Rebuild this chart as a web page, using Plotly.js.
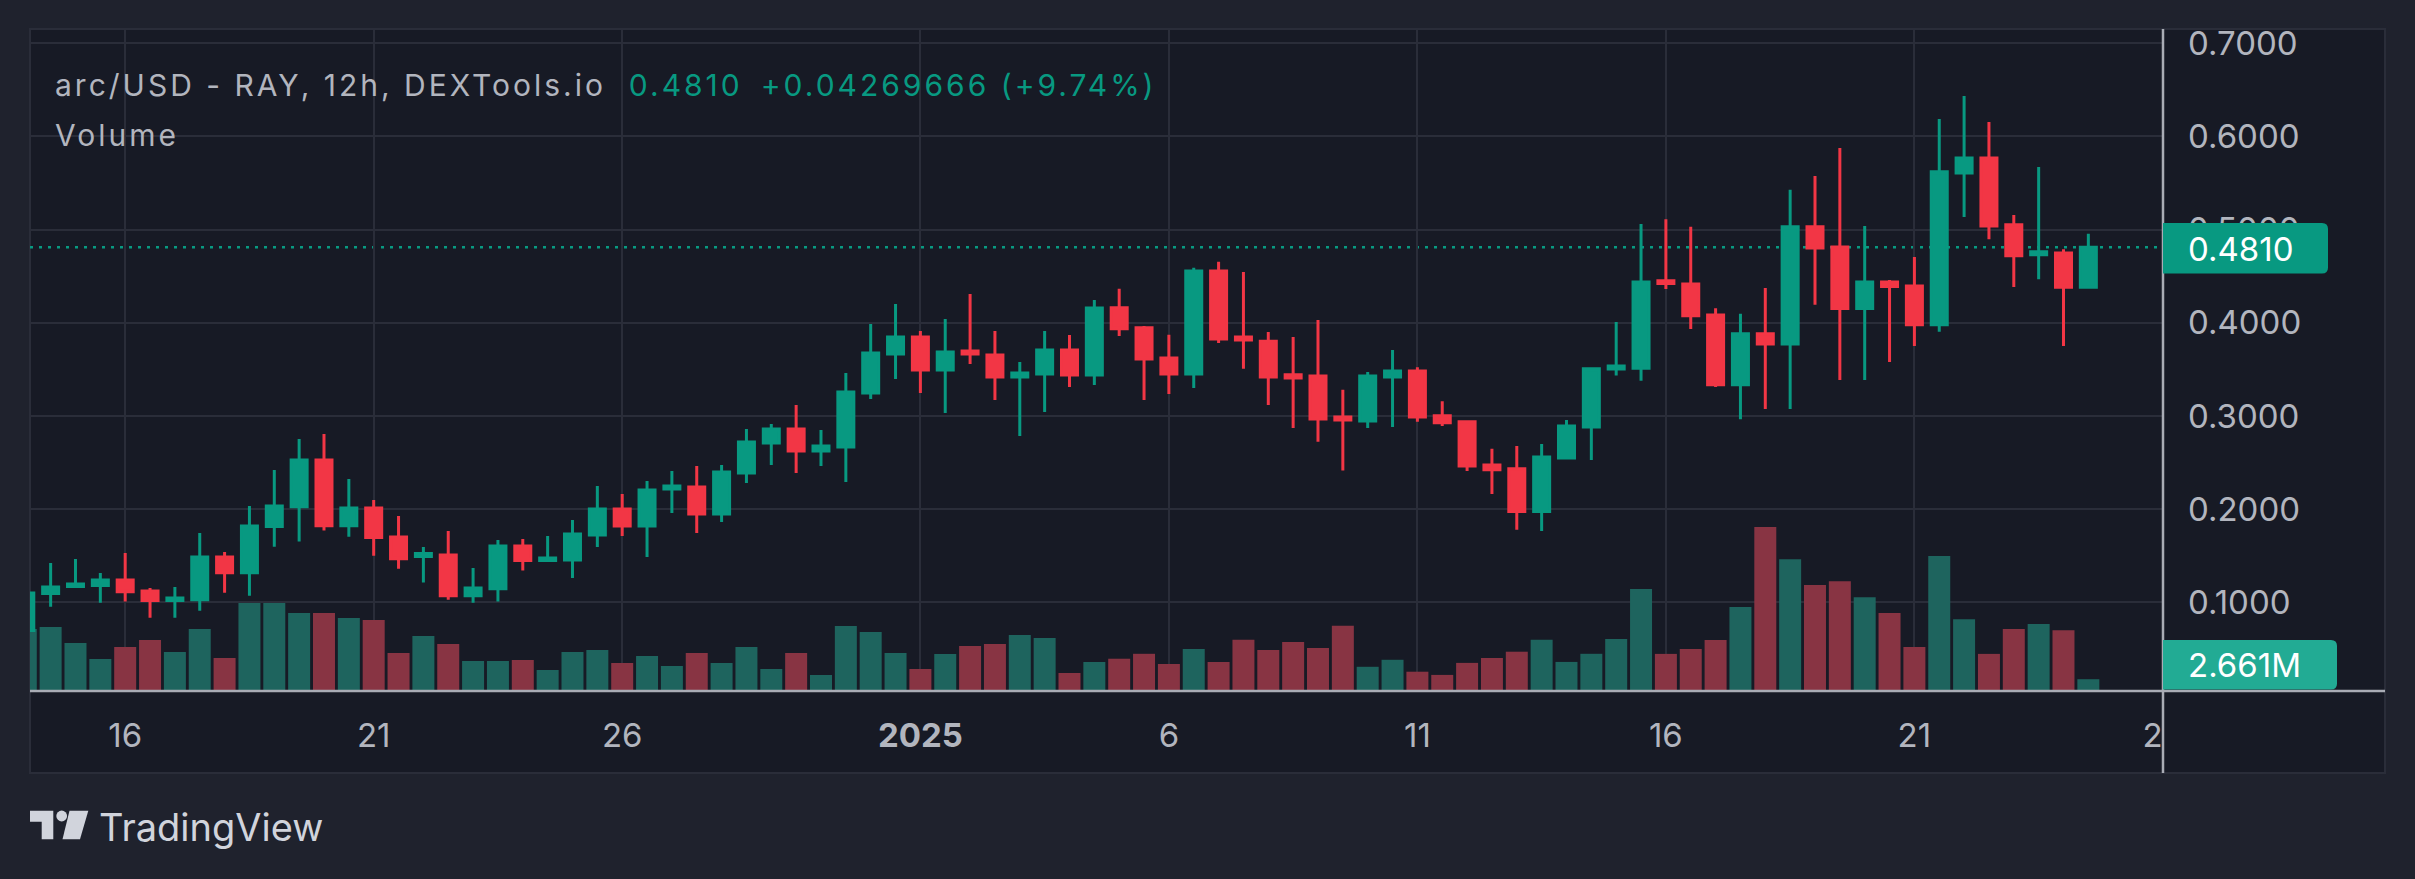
<!DOCTYPE html>
<html><head><meta charset="utf-8">
<script src="https://cdn.plot.ly/plotly-3.0.1.min.js"></script>
<style>html,body{margin:0;padding:0;background:#1f222d;}#chart{width:2415px;height:879px;}</style>
</head><body><div id="chart"></div>
<script>
// ---- data (12h candles, arc/USD) ----
const times = [
"2024-12-14 00:00","2024-12-14 12:00","2024-12-15 00:00","2024-12-15 12:00","2024-12-16 00:00","2024-12-16 12:00",
"2024-12-17 00:00","2024-12-17 12:00","2024-12-18 00:00","2024-12-18 12:00","2024-12-19 00:00","2024-12-19 12:00",
"2024-12-20 00:00","2024-12-20 12:00","2024-12-21 00:00","2024-12-21 12:00","2024-12-22 00:00","2024-12-22 12:00",
"2024-12-23 00:00","2024-12-23 12:00","2024-12-24 00:00","2024-12-24 12:00","2024-12-25 00:00","2024-12-25 12:00",
"2024-12-26 00:00","2024-12-26 12:00","2024-12-27 00:00","2024-12-27 12:00","2024-12-28 00:00","2024-12-28 12:00",
"2024-12-29 00:00","2024-12-29 12:00","2024-12-30 00:00","2024-12-30 12:00","2024-12-31 00:00","2024-12-31 12:00",
"2025-01-01 00:00","2025-01-01 12:00","2025-01-02 00:00","2025-01-02 12:00","2025-01-03 00:00","2025-01-03 12:00",
"2025-01-04 00:00","2025-01-04 12:00","2025-01-05 00:00","2025-01-05 12:00","2025-01-06 00:00","2025-01-06 12:00",
"2025-01-07 00:00","2025-01-07 12:00","2025-01-08 00:00","2025-01-08 12:00","2025-01-09 00:00","2025-01-09 12:00",
"2025-01-10 00:00","2025-01-10 12:00","2025-01-11 00:00","2025-01-11 12:00","2025-01-12 00:00","2025-01-12 12:00",
"2025-01-13 00:00","2025-01-13 12:00","2025-01-14 00:00","2025-01-14 12:00","2025-01-15 00:00","2025-01-15 12:00",
"2025-01-16 00:00","2025-01-16 12:00","2025-01-17 00:00","2025-01-17 12:00","2025-01-18 00:00","2025-01-18 12:00",
"2025-01-19 00:00","2025-01-19 12:00","2025-01-20 00:00","2025-01-20 12:00","2025-01-21 00:00","2025-01-21 12:00",
"2025-01-22 00:00","2025-01-22 12:00","2025-01-23 00:00","2025-01-23 12:00","2025-01-24 00:00","2025-01-24 12:00"];

const open = [
0.0698,0.1095,0.1170,0.1181,0.1241,0.1123,0.1020,0.1030,0.1488,0.1320,0.1814,0.2028,
0.2529,0.1824,0.2014,0.1703,0.1492,0.1510,0.1073,0.1148,0.1606,0.1449,0.1456,0.1724,
0.2003,0.1821,0.2218,0.2239,0.1950,0.2390,0.2711,0.2862,0.2626,0.2668,0.3248,0.3666,
0.3849,0.3495,0.3699,0.3656,0.3420,0.3452,0.3709,0.3441,0.4162,0.3947,0.3623,0.3450,
0.4557,0.3849,0.3804,0.3443,0.3431,0.2991,0.2946,0.3420,0.3484,0.3002,0.2938,0.2475,
0.2434,0.1975,0.2551,0.2882,0.3506,0.3514,0.4451,0.4417,0.4084,0.3335,0.3882,0.3773,
0.5030,0.4815,0.4154,0.4438,0.4395,0.3979,0.5608,0.5770,0.5052,0.4732,0.4750,0.4383];
const high = [
0.1125,0.1424,0.1467,0.1317,0.1531,0.1156,0.1166,0.1746,0.1542,0.2035,0.2422,0.2754,
0.2808,0.2325,0.2100,0.1928,0.1595,0.1767,0.1370,0.1671,0.1681,0.1713,0.1885,0.2250,
0.2164,0.2304,0.2411,0.2465,0.2475,0.2862,0.2915,0.3119,0.2851,0.3462,0.3988,0.4203,
0.3913,0.4042,0.4310,0.3913,0.3581,0.3913,0.3870,0.4246,0.4365,0.3966,0.3872,0.4591,
0.4655,0.4545,0.3902,0.3849,0.4030,0.3281,0.3473,0.3710,0.3525,0.3160,0.2950,0.2648,
0.2679,0.2701,0.2957,0.3525,0.4009,0.5060,0.5113,0.5030,0.4158,0.4097,0.4373,0.5428,
0.5577,0.5875,0.5038,0.4460,0.4706,0.6186,0.6435,0.6155,0.5157,0.5673,0.4789,0.4955];
const low = [
0.0690,0.0955,0.1156,0.0998,0.1009,0.0837,0.0837,0.0912,0.1105,0.1073,0.1599,0.1653,
0.1771,0.1706,0.1502,0.1363,0.1213,0.1030,0.0998,0.1009,0.1342,0.1449,0.1263,0.1595,
0.1714,0.1488,0.1960,0.1746,0.1864,0.2282,0.2475,0.2390,0.2465,0.2293,0.3183,0.3398,
0.3248,0.3033,0.3559,0.3173,0.2787,0.3044,0.3312,0.3334,0.3860,0.3172,0.3236,0.3300,
0.3785,0.3507,0.3119,0.2871,0.2724,0.2415,0.2871,0.2882,0.2938,0.2893,0.2411,0.2163,
0.1779,0.1768,0.2540,0.2528,0.3435,0.3379,0.4364,0.3935,0.3313,0.2967,0.3076,0.3076,
0.4193,0.3387,0.3387,0.3580,0.3751,0.3904,0.5135,0.4898,0.4386,0.4469,0.3751,0.4380];
const close = [
0.1102,0.1166,0.1198,0.1241,0.1116,0.1020,0.1048,0.1488,0.1320,0.1821,0.2035,0.2529,
0.1824,0.2014,0.1696,0.1470,0.1524,0.1073,0.1156,0.1606,0.1449,0.1477,0.1735,0.2003,
0.1821,0.2207,0.2250,0.1950,0.2400,0.2722,0.2862,0.2626,0.2679,0.3259,0.3677,0.3849,
0.3495,0.3688,0.3666,0.3420,0.3462,0.3709,0.3441,0.4160,0.3936,0.3612,0.3450,0.4557,
0.3827,0.3815,0.3420,0.3409,0.2968,0.2957,0.3431,0.3484,0.2991,0.2927,0.2464,0.2423,
0.1975,0.2562,0.2893,0.3507,0.3536,0.4438,0.4421,0.4075,0.3335,0.3882,0.3773,0.5030,
0.4802,0.4154,0.4438,0.4390,0.3979,0.5621,0.5770,0.5038,0.4719,0.4763,0.43830334,0.4810];
// volume in millions
const volumeM = [
13.98,14.43,10.82,7.22,9.92,11.50,8.79,13.98,7.44,19.84,19.84,17.59,
17.59,16.46,16.01,8.57,12.40,10.60,6.77,6.77,6.99,4.74,8.79,9.25,
6.31,7.89,5.64,8.57,6.31,9.92,4.96,8.57,3.61,14.66,13.30,8.57,
4.96,8.34,10.15,10.60,12.63,11.95,4.06,6.54,7.28,8.39,6.09,9.47,
6.54,11.55,9.25,11.07,9.72,14.70,5.46,7.04,4.35,3.63,6.34,7.44,
8.86,11.55,6.56,8.39,11.73,23.00,8.37,9.47,11.50,18.96,37.00,29.72,
23.93,24.76,21.17,17.59,9.94,30.47,16.19,8.37,13.98,15.09,13.71,2.661];

const dateTickVals = ["2024-12-16","2024-12-21","2024-12-26","2025-01-01","2025-01-06","2025-01-11","2025-01-16","2025-01-21","2025-01-26"];
const dateTickText = ["16","21","26","<b>2025</b>","6","11","16","21","26"];
const priceTickVals = [0.1,0.2,0.3,0.4,0.5,0.6,0.7];
const priceTickText = ["0.1000","0.2000","0.3000","0.4000","0.5000","0.6000","0.7000"];
const symbolTitle = "arc/USD - RAY, 12h, DEXTools.io";
const lastPrice = 0.4810;
const priceChange = "+0.04269666";
const priceChangePct = "+9.74%";
const volumeTitle = "Volume";
const lastVolumeLabel = "2.661M";

// ---- style ----
const UP = "#089981", DOWN = "#f23645";
const VOL_UP = "#1e645e", VOL_DOWN = "#883443";
const PANEL = "#171a25", OUTER = "#1f222d", GRID = "#2a2d39", TEXT = "#b2b5be", AXISLINE = "#a9acb5";
const FONT = "Inter, 'Noto Sans', sans-serif";

// pixel -> paper helpers (plot area: x 30..2163, y 29..691)
const PL = 30, PR = 2163, PT = 29, PB = 691;
const X = p => (p - PL) / (PR - PL);
const Y = p => (PB - p) / (PB - PT);

function roundRightRect(x0, y0, x1, y1, r) {
  return "M" + X(x0) + "," + Y(y0) +
    " L" + X(x1 - r) + "," + Y(y0) +
    " Q" + X(x1) + "," + Y(y0) + " " + X(x1) + "," + Y(y0 + r) +
    " L" + X(x1) + "," + Y(y1 - r) +
    " Q" + X(x1) + "," + Y(y1) + " " + X(x1 - r) + "," + Y(y1) +
    " L" + X(x0) + "," + Y(y1) + " Z";
}
function poly(points) {
  return points.map((p, i) => (i ? "L" : "M") + X(p[0]) + "," + Y(p[1])).join(" ") + " Z";
}

const volColors = close.map((c, i) => c >= open[i] ? VOL_UP : VOL_DOWN);
const barWidthMs = 0.885 * 12 * 3600 * 1000;

const traces = [
  {type: "bar", x: times, y: volumeM, yaxis: "y", marker: {color: volColors, line: {width: 0}},
   width: barWidthMs, hoverinfo: "skip", showlegend: false},
  {type: "candlestick", x: times, open: open, high: high, low: low, close: close, yaxis: "y2",
   increasing: {line: {color: UP, width: 3}, fillcolor: UP},
   decreasing: {line: {color: DOWN, width: 3}, fillcolor: DOWN},
   whiskerwidth: 0, hoverinfo: "skip", showlegend: false}
];

const shapes = [
  {type: "rect", xref: "paper", yref: "paper", x0: X(30), x1: X(2385), y0: Y(773), y1: Y(29),
   fillcolor: PANEL, line: {color: GRID, width: 2}, layer: "below"},
  {type: "line", xref: "paper", yref: "y2", x0: X(30), x1: X(2160), y0: lastPrice, y1: lastPrice,
   line: {color: UP, width: 2.5, dash: "3px,6px"}, layer: "below"},
  {type: "rect", xref: "paper", yref: "paper", x0: X(2164), x1: X(2384), y0: Y(771), y1: Y(692.5),
   fillcolor: PANEL, line: {width: 0}, layer: "above"},
  {type: "line", xref: "paper", yref: "paper", x0: X(30), x1: X(2385), y0: Y(691), y1: Y(691),
   line: {color: AXISLINE, width: 2.5}, layer: "above"},
  {type: "line", xref: "paper", yref: "paper", x0: X(2163), x1: X(2163), y0: Y(29), y1: Y(773),
   line: {color: AXISLINE, width: 2.5}, layer: "above"},
  {type: "path", xref: "paper", yref: "paper", path: roundRightRect(2163, 223, 2328, 273.5, 6),
   fillcolor: UP, line: {width: 0}, layer: "above"},
  {type: "path", xref: "paper", yref: "paper", path: roundRightRect(2163, 640, 2337, 689.5, 6),
   fillcolor: "#22ab94", line: {width: 0}, layer: "above"},
  {type: "path", xref: "paper", yref: "paper",
   path: poly([[30,810.7],[53.3,810.7],[53.3,839.3],[41.7,839.3],[41.7,821.7],[30,821.7]]),
   fillcolor: "#d1d4dc", line: {width: 0}},
  {type: "circle", xref: "paper", yref: "paper", x0: X(56.3), x1: X(67.1), y0: Y(821.4), y1: Y(810.6),
   fillcolor: "#d1d4dc", line: {width: 0}},
  {type: "path", xref: "paper", yref: "paper",
   path: poly([[69.5,810.7],[88.3,810.7],[80,839.3],[62.5,839.3]]),
   fillcolor: "#d1d4dc", line: {width: 0}}
];

const nb = "\u00a0";
const LS = "letter-spacing:3px";
const annotations = [
  {xref: "paper", yref: "paper", x: X(53), y: Y(85), xanchor: "left", yanchor: "middle", showarrow: false,
   text: '<span style="' + LS + '">' + symbolTitle + nb + nb + '</span><span style="color:' + UP + ';' + LS + '">' +
         lastPrice.toFixed(4) + "\u2002" + priceChange + " (" + priceChangePct + ")</span>",
   font: {family: FONT, size: 30, color: TEXT}},
  {xref: "paper", yref: "paper", x: X(53), y: Y(135), xanchor: "left", yanchor: "middle", showarrow: false,
   text: '<span style="' + LS + '">' + volumeTitle + '</span>', font: {family: FONT, size: 30, color: TEXT}},
  {xref: "paper", yref: "paper", x: X(2186), y: Y(248.5), xanchor: "left", yanchor: "middle", showarrow: false,
   text: lastPrice.toFixed(4), font: {family: FONT, size: 33, color: "#ffffff"}},
  {xref: "paper", yref: "paper", x: X(2186), y: Y(665), xanchor: "left", yanchor: "middle", showarrow: false,
   text: lastVolumeLabel, font: {family: FONT, size: 33, color: "#ffffff"}},
  {xref: "paper", yref: "paper", x: X(97), y: Y(827), xanchor: "left", yanchor: "middle", showarrow: false,
   text: "TradingView", font: {family: FONT, size: 38, color: "#d1d4dc"}}
];

const layout = {
  width: 2415, height: 879, autosize: false,
  margin: {l: PL, r: 2415 - PR, t: PT, b: 879 - PB, pad: 0},
  paper_bgcolor: OUTER, plot_bgcolor: PANEL,
  showlegend: false, hovermode: false, dragmode: false,
  boxgap: 0.356, boxgroupgap: 0,
  xaxis: {type: "date", range: ["2024-12-14 02:02", "2025-01-26 00:03"],
    tickmode: "array", tickvals: dateTickVals, ticktext: dateTickText,
    showgrid: true, gridcolor: GRID, gridwidth: 2, zeroline: false, showline: false, ticks: "",
    ticklabelstandoff: 22, tickfont: {family: FONT, size: 33, color: TEXT},
    rangeslider: {visible: false}, fixedrange: true},
  yaxis: {range: [0, 149.3], visible: false, fixedrange: true, showgrid: false, zeroline: false},
  yaxis2: {overlaying: "y", side: "right", range: [0.0050, 0.7153],
    tickmode: "array", tickvals: priceTickVals, ticktext: priceTickText,
    showgrid: true, gridcolor: GRID, gridwidth: 2, zeroline: false, showline: false, ticks: "",
    ticklabelstandoff: 24, tickfont: {family: FONT, size: 33, color: TEXT}, fixedrange: true},
  shapes: shapes,
  annotations: annotations
};

Plotly.newPlot("chart", traces, layout, {staticPlot: true, displayModeBar: false});
</script>
</body></html>
